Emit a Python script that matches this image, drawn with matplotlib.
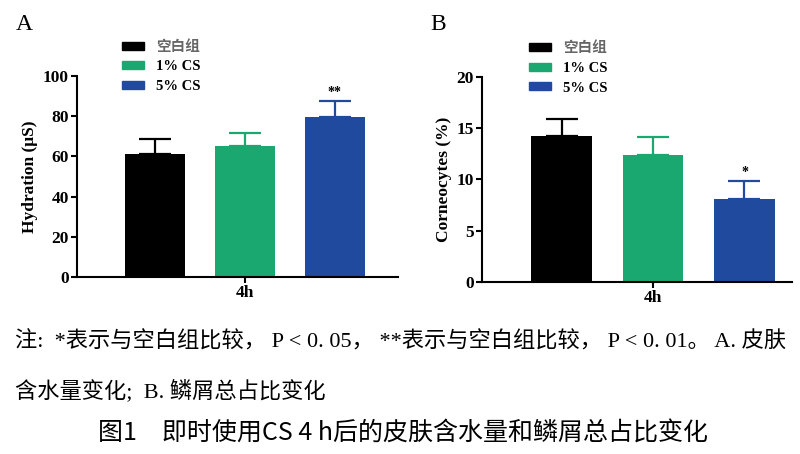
import matplotlib
matplotlib.use('Agg')
import matplotlib.pyplot as plt
from matplotlib.patches import Patch

groups = ['空白组', '1% CS', '5% CS']
colors = ['#000000', '#1aa870', '#1f4a9e']
time_label = ['4h']

hydration = [61.2, 65.2, 79.6]
hydration_err = [7.5, 6.4, 8.0]
hydration_sig = ['', '', '**']

corneo = [14.2, 12.4, 8.1]
corneo_err = [1.7, 1.7, 1.7]
corneo_sig = ['', '', '*']

note_1 = '注:  *表示与空白组比较， P < 0. 05， **表示与空白组比较， P < 0. 01。 A. 皮肤'
note_2 = '含水量变化;  B. 鳞屑总占比变化'
title = '图1　即时使用CS 4 h后的皮肤含水量和鳞屑总占比变化'

serif = 'Liberation Serif'
cap_fonts = ['Liberation Serif', 'Noto Sans CJK SC', 'DejaVu Sans']
cjk = ['Noto Sans CJK SC', 'DejaVu Sans']

fig = plt.figure(figsize=(8, 4.54), dpi=100)


def panel(rect, vals, errs, sigs, ylim, yticks, ylabel, xlim, leg_x, letter, letter_x):
    ax = fig.add_axes(rect)
    x = [0, 1, 2]
    for i in range(3):
        ax.bar(x[i], vals[i], width=0.66, color=colors[i], zorder=2)
        ax.errorbar(x[i], vals[i], yerr=[[0], [errs[i]]], color=colors[i],
                    capsize=11.5, elinewidth=1.6, capthick=1.6, zorder=1)
        if sigs[i]:
            ax.text(x[i], vals[i] + errs[i] + ylim[1] * 0.01, sigs[i],
                    ha='center', va='bottom', fontsize=10, fontweight='bold',
                    family=serif)
    ax.set_xlim(xlim)
    ax.set_ylim(ylim)
    ax.set_yticks(yticks)
    ax.set_xticks([1])
    ax.set_xticklabels(time_label)
    for s in ['top', 'right']:
        ax.spines[s].set_visible(False)
    for s in ['left', 'bottom']:
        ax.spines[s].set_linewidth(1.5)
    ax.tick_params(width=1.5, length=4, labelsize=12.5, pad=2)
    for lab in ax.get_xticklabels() + ax.get_yticklabels():
        lab.set_family(serif)
        lab.set_fontweight('bold')
    ax.set_ylabel(ylabel, family=serif, fontweight='bold', fontsize=12.5,
                  labelpad=3)
    handles = [Patch(color=c) for c in colors]
    leg = ax.legend(handles, groups, loc='lower left',
                    bbox_to_anchor=(leg_x, 0.85), frameon=False,
                    handlelength=1.5, handleheight=0.45, labelspacing=0.45,
                    handletextpad=0.8,
                    prop={'family': [serif, 'Noto Sans CJK SC'],
                          'weight': 'bold', 'size': 10.5})
    leg.get_texts()[0].set_color('#666666')
    fig.text(letter_x, 0.945, letter, family=serif, fontsize=17,
             ha='left', va='center')
    return ax


panel([0.09625, 0.39, 0.401, 0.4427], hydration, hydration_err, hydration_sig,
      (0, 100), [0, 20, 40, 60, 80, 100], 'Hydration (μS)', (-0.867, 2.70),
      0.10, 'A', 0.02)
panel([0.6025, 0.379, 0.3875, 0.4515], corneo, corneo_err, corneo_sig,
      (0, 20), [0, 5, 10, 15, 20], 'Corneocytes (%)', (-0.87, 2.52),
      0.11, 'B', 0.538)

fig.text(0.019, 1 - 342 / 454, note_1, family=cap_fonts, fontsize=16,
         ha='left', va='center')
fig.text(0.019, 1 - 391 / 454, note_2, family=cap_fonts, fontsize=16,
         ha='left', va='center')
fig.text(0.504, 1 - 434 / 454, title, family=cjk, fontsize=18,
         ha='center', va='center')

fig.savefig('out.png', dpi=100)
